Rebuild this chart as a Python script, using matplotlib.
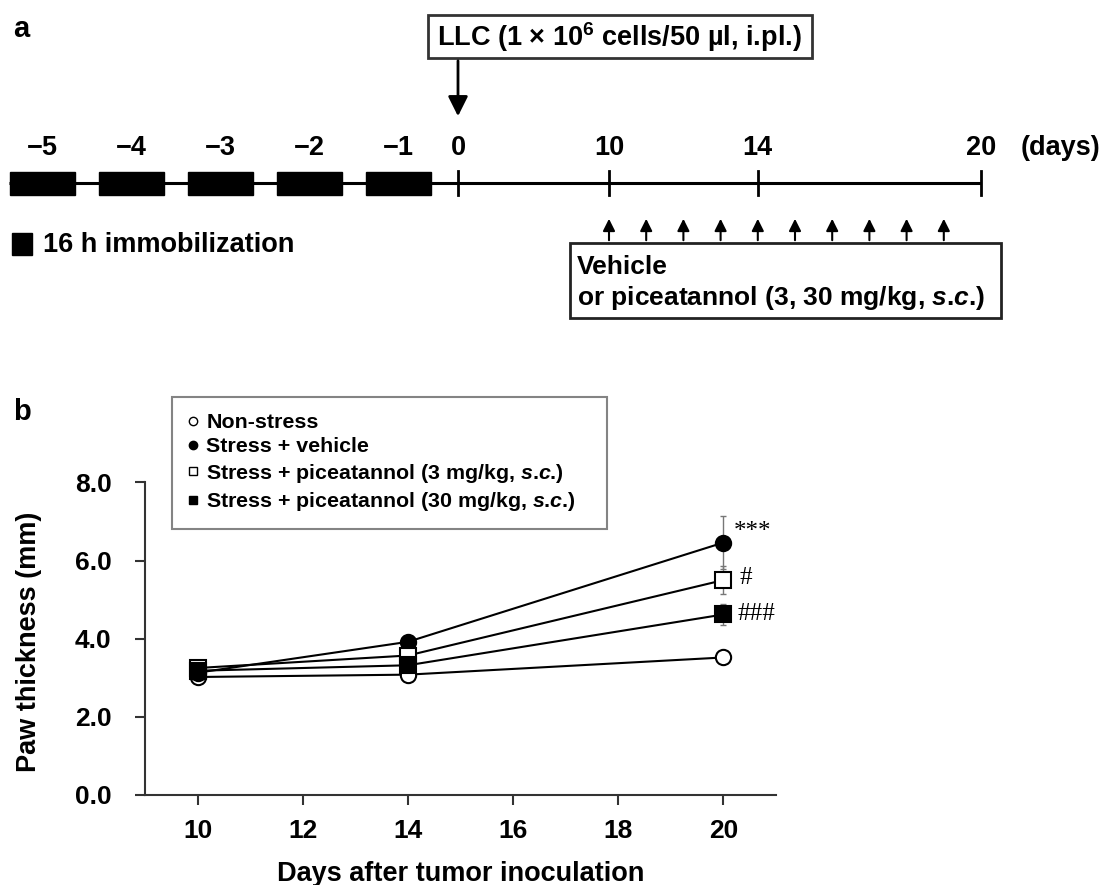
import matplotlib
matplotlib.use("Agg")
import matplotlib.pyplot as plt
from matplotlib.patches import Rectangle
from matplotlib.lines import Line2D

plt.rcParams['font.family'] = ['Liberation Sans', 'DejaVu Sans']
plt.rcParams['font.weight'] = 'bold'
plt.rcParams['mathtext.fontset'] = 'custom'
plt.rcParams['mathtext.rm'] = 'Liberation Sans:bold'
plt.rcParams['mathtext.bf'] = 'Liberation Sans:bold'
plt.rcParams['mathtext.it'] = 'Liberation Sans:italic:bold'

# ---- panel a: schedule ----
stress_days = [-5, -4, -3, -2, -1]
timeline_ticks = [0, 10, 14, 20]
day_labels = [-5, -4, -3, -2, -1, 0, 10, 14, 20]
injection_days = [10, 11, 12, 13, 14, 15, 16, 17, 18, 19]

# ---- panel b: paw thickness ----
days = [10, 14, 20]
non_stress = [3.02, 3.08, 3.52]
non_stress_err = [0.05, 0.05, 0.10]
vehicle = [3.13, 3.92, 6.46]
vehicle_err = [0.08, 0.10, 0.68]
pic3 = [3.25, 3.57, 5.50]
pic3_err = [0.06, 0.08, 0.36]
pic30 = [3.18, 3.32, 4.62]
pic30_err = [0.05, 0.06, 0.28]
signif = ["", "***", "#", "###"]

SC = "$\\mathit{s}$.$\\mathit{c}$."


def day_x(d):
    # schematic (broken) time axis, in pixels
    if d < 0:
        return 42 + (d + 5) * 89.0
    if d < 10:
        return 458 + d * 15.1
    return 609 + (d - 10) * 37.2


fig = plt.figure(figsize=(11.05, 8.85), dpi=100)
ov = fig.add_axes([0, 0, 1, 1])
ov.set_xlim(0, 1105)
ov.set_ylim(885, 0)
ov.axis('off')

ov.text(13, 29, "a", fontsize=21, fontweight='bold', va='center', ha='left')
ov.text(13, 412, "b", fontsize=21, fontweight='bold', va='center', ha='left')

# timeline
ov.plot([9, day_x(20)], [183, 183], color='black', lw=2.2, solid_capstyle='butt')
for d in stress_days:
    ov.add_patch(Rectangle((day_x(d) - 32.5, 172), 65, 23, color='black'))
for d in timeline_ticks:
    ov.plot([day_x(d), day_x(d)], [171, 195], color='black', lw=2)
for d in day_labels:
    ov.text(day_x(d), 148, str(d).replace('-', '\u2212'), fontsize=19.5,
            ha='center', va='center')
ov.text(1060, 148, "(days)", fontsize=19.5, ha='center', va='center')

# LLC box and arrow
ov.add_patch(Rectangle((428, 15), 384, 43, fill=False, edgecolor='#333333', lw=2))
ov.text(619, 37, "LLC (1 \u00d7 10$^{6}$ cells/50 \u00b5l, i.pl.)", fontsize=19.5,
        ha='center', va='center')
ov.annotate('', xy=(day_x(0), 119), xytext=(day_x(0), 58),
            arrowprops=dict(arrowstyle='-|>', color='black', lw=2, mutation_scale=30))

# immobilization key
ov.add_patch(Rectangle((12, 233), 20, 22, color='black'))
ov.text(43, 245, "16 h immobilization", fontsize=19.5, ha='left', va='center')

# injections
for d in injection_days:
    ov.annotate('', xy=(day_x(d), 216), xytext=(day_x(d), 243),
                arrowprops=dict(arrowstyle='-|>', color='black', lw=1.5, mutation_scale=18))
ov.add_patch(Rectangle((570, 243), 431, 75, fill=False, edgecolor='#222222', lw=2))
ov.text(577, 267, "Vehicle", fontsize=19, ha='left', va='center')
ov.text(577, 298, "or piceatannol (3, 30 mg/kg, " + SC + ")", fontsize=19,
        ha='left', va='center')

# ---- panel b ----
ax = fig.add_axes([0.1312, 0.1017, 0.5711, 0.3532])
series = [
    (non_stress, non_stress_err, 'o', 'white'),
    (vehicle, vehicle_err, 'o', 'black'),
    (pic3, pic3_err, 's', 'white'),
    (pic30, pic30_err, 's', 'black'),
]
for vals, errs, mk, fc in series:
    ax.errorbar(days, vals, yerr=errs, fmt='none', ecolor='#777777', elinewidth=1,
                capsize=2, capthick=1, zorder=2)
for vals, errs, mk, fc in series:
    ax.plot(days, vals, color='black', lw=1.5, marker=mk, markersize=11,
            markerfacecolor=fc, markeredgecolor='black', markeredgewidth=1.5, zorder=3)

sig_x = [20.3, 20.19, 20.3, 20.26]
sig_y = [0, 6.73, 5.55, 4.63]
for s, sx, sy in zip(signif, sig_x, sig_y):
    if s:
        ax.text(sx, sy, s, fontsize=18, fontweight='normal', family='Liberation Serif',
                ha='left', va='center')

ax.set_xlim(9, 21)
ax.set_ylim(0, 8)
ax.set_xticks([10, 12, 14, 16, 18, 20])
ax.set_yticks([0, 2, 4, 6, 8])
ax.set_yticklabels(["%.1f" % v for v in [0, 2, 4, 6, 8]])
for s in ['top', 'right']:
    ax.spines[s].set_visible(False)
for s in ['left', 'bottom']:
    ax.spines[s].set_color('#333333')
    ax.spines[s].set_linewidth(1.5)
ax.tick_params(axis='both', direction='out', length=7, width=1.5, color='#333333',
               labelsize=19)
ax.tick_params(axis='y', pad=17)
ax.tick_params(axis='x', pad=10)
ax.set_ylabel("Paw thickness (mm)", fontsize=19.5, fontweight='bold')
ax.yaxis.set_label_coords(-0.163, 0.49)
ax.set_xlabel("Days after tumor inoculation", fontsize=19.5, fontweight='bold', labelpad=13)

handles = [Line2D([], [], ls='none', marker=mk, markersize=6, markerfacecolor=fc,
                  markeredgecolor='black', markeredgewidth=1)
           for _, _, mk, fc in series]
labels = ["Non-stress", "Stress + vehicle",
          "Stress + piceatannol (3 mg/kg, " + SC + ")",
          "Stress + piceatannol (30 mg/kg, " + SC + ")"]
leg = ax.legend(handles, labels, loc='upper left',
                bbox_to_anchor=(172 / 1105, 1 - 528 / 885, 435 / 1105, 131 / 885),
                bbox_transform=fig.transFigure, mode='expand', fontsize=15.4,
                frameon=True, fancybox=False, edgecolor='#666666', handlelength=0.5,
                handletextpad=0.35, labelspacing=0.25, borderpad=0.75, borderaxespad=0)
leg.get_frame().set_linewidth(1.5)

fig.savefig("out.png", dpi=100)
